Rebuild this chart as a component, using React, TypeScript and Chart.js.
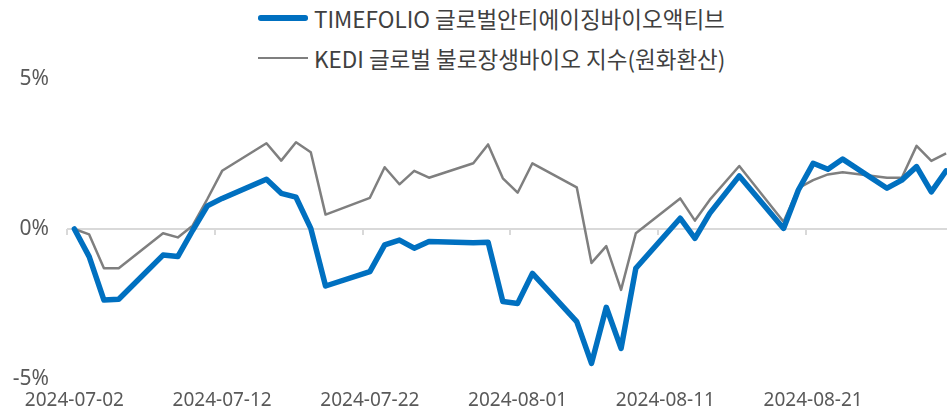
import { useEffect, useRef } from 'react';
import { Chart, registerables } from 'chart.js';

Chart.register(...registerables);

const seriesNames = ['TIMEFOLIO 글로벌안티에이징바이오액티브', 'KEDI 글로벌 불로장생바이오 지수(원화환산)'];
const seriesColors = ['#0070C0', '#7f7f7f'];
const seriesWidths = [5.5, 2.5];

const dates = [
  '2024-07-02', '2024-07-03', '2024-07-04', '2024-07-05', '2024-07-08', '2024-07-09', '2024-07-10', '2024-07-11', '2024-07-12',
  '2024-07-15', '2024-07-16', '2024-07-17', '2024-07-18', '2024-07-19',
  '2024-07-22', '2024-07-23', '2024-07-24', '2024-07-25', '2024-07-26',
  '2024-07-29', '2024-07-30', '2024-07-31', '2024-08-01', '2024-08-02',
  '2024-08-05', '2024-08-06', '2024-08-07', '2024-08-08', '2024-08-09',
  '2024-08-12', '2024-08-13', '2024-08-14', '2024-08-16',
  '2024-08-19', '2024-08-20', '2024-08-21', '2024-08-22', '2024-08-23',
  '2024-08-26', '2024-08-27', '2024-08-28', '2024-08-29', '2024-08-30',
];

const timefolio = [
  0, -0.92, -2.37, -2.34, -0.87, -0.92, -0.05, 0.77, 1.02,
  1.66, 1.19, 1.06, 0.02, -1.9,
  -1.42, -0.53, -0.37, -0.64, -0.42,
  -0.46, -0.44, -2.42, -2.48, -1.48,
  -3.09, -4.48, -2.61, -3.98, -1.31,
  0.36, -0.31, 0.52, 1.77,
  0.02, 1.3, 2.19, 1.99, 2.33,
  1.36, 1.63, 2.08, 1.24, 1.94,
];

const kedi = [
  0, -0.18, -1.31, -1.31, -0.14, -0.28, 0.11, 1.0, 1.94,
  2.86, 2.28, 2.89, 2.56, 0.48,
  1.04, 2.06, 1.49, 1.94, 1.71,
  2.19, 2.82, 1.69, 1.21, 2.19,
  1.39, -1.13, -0.57, -2.03, -0.14,
  1.02, 0.28, 0.97, 2.1,
  0.24, 1.36, 1.63, 1.82, 1.89,
  1.71, 1.71, 2.77, 2.27, 2.52,
];

const tickDates = ['2024-07-02', '2024-07-12', '2024-07-22', '2024-08-01', '2024-08-11', '2024-08-21'];
const yTickValues = [-5, 0, 5];

const START = Date.UTC(2024, 6, 2);
const dayIndex = (s: string) => {
  const [y, m, d] = s.split('-').map(Number);
  return Math.round((Date.UTC(y, m - 1, d) - START) / 86400000);
};
const dateFromIndex = (i: number) => {
  const dt = new Date(START + i * 86400000);
  const mm = String(dt.getUTCMonth() + 1).padStart(2, '0');
  const dd = String(dt.getUTCDate()).padStart(2, '0');
  return `${dt.getUTCFullYear()}-${mm}-${dd}`;
};

const zeroTicks = {
  id: 'zeroTicks',
  beforeDatasetsDraw(chart: any) {
    const { ctx, scales } = chart;
    const x = scales.x;
    const y = scales.y;
    const y0 = y.getPixelForValue(0);
    ctx.save();
    ctx.strokeStyle = '#d9d9d9';
    ctx.lineWidth = 2;
    tickDates.forEach((t) => {
      const px = Math.round(x.getPixelForValue(dayIndex(t) - 0.5));
      ctx.beginPath();
      ctx.moveTo(px, y0);
      ctx.lineTo(px, y0 + 6);
      ctx.stroke();
    });
    ctx.restore();
  },
};

export default function App() {
  const ref = useRef<HTMLCanvasElement>(null);

  useEffect(() => {
    if (!ref.current) return;
    const chart = new Chart(ref.current, {
      type: 'line',
      data: {
        datasets: [
          {
            label: seriesNames[0],
            data: dates.map((d, i) => ({ x: dayIndex(d), y: timefolio[i] })),
            borderColor: seriesColors[0],
            backgroundColor: seriesColors[0],
            borderWidth: seriesWidths[0],
            borderJoinStyle: 'round',
            borderCapStyle: 'round',
            pointRadius: 0,
            tension: 0,
            order: 1,
          },
          {
            label: seriesNames[1],
            data: dates.map((d, i) => ({ x: dayIndex(d), y: kedi[i] })),
            borderColor: seriesColors[1],
            backgroundColor: seriesColors[1],
            borderWidth: seriesWidths[1],
            borderJoinStyle: 'round',
            borderCapStyle: 'butt',
            pointRadius: 0,
            tension: 0,
            order: 2,
          },
        ],
      },
      options: {
        animation: false,
        responsive: false,
        layout: { padding: { top: 79, left: 0, right: 0, bottom: 0 } },
        plugins: {
          tooltip: { enabled: false },
          legend: { display: false },
        },
        scales: {
          x: {
            type: 'linear',
            min: -0.5,
            max: 59.06,
            grid: { display: false, drawTicks: false },
            border: { display: false },
            afterBuildTicks: (scale: any) => {
              scale.ticks = tickDates.map((t) => ({ value: dayIndex(t) }));
            },
            afterFit: (scale: any) => {
              scale.height = 33;
            },
            ticks: {
              padding: 10,
              maxRotation: 0,
              autoSkip: false,
              color: '#595959',
              font: { family: "'Noto Sans', sans-serif", size: 19 },
              callback: (v: any) => dateFromIndex(Number(v)),
            },
          },
          y: {
            min: -5,
            max: 5,
            afterBuildTicks: (scale: any) => {
              scale.ticks = yTickValues.map((v) => ({ value: v }));
            },
            afterFit: (scale: any) => {
              scale.width = 67;
            },
            border: { display: false },
            grid: {
              drawTicks: false,
              lineWidth: 2,
              color: (c: any) => (c.tick && c.tick.value === 0 ? '#d9d9d9' : 'rgba(0,0,0,0)'),
            },
            ticks: {
              padding: 18,
              color: '#595959',
              font: { family: "'Noto Sans', sans-serif", size: 21 },
              callback: (v: any) => `${v}%`,
            },
          },
        },
      },
      plugins: [zeroTicks],
    });
    return () => chart.destroy();
  }, []);

  const legendRow = (i: number, centerY: number) => (
    <div
      key={i}
      style={{
        position: 'absolute',
        left: 258,
        top: centerY - 16,
        height: 32,
        display: 'flex',
        alignItems: 'center',
        whiteSpace: 'nowrap',
      }}
    >
      <div
        style={{
          width: 50,
          height: seriesWidths[i],
          background: seriesColors[i],
          borderRadius: i === 0 ? seriesWidths[i] / 2 : 0,
          marginRight: 6,
        }}
      />
      <span
        style={{
          fontFamily: "'Noto Sans CJK KR', 'Noto Sans', sans-serif",
          fontSize: 22.5,
          lineHeight: '32px',
          color: '#404040',
        }}
      >
        {seriesNames[i]}
      </span>
    </div>
  );

  return (
    <div style={{ position: 'absolute', left: 0, top: 0, width: 947, height: 410, overflow: 'hidden', background: '#fff' }}>
      {legendRow(0, 18)}
      {legendRow(1, 58)}
      <canvas
        ref={ref}
        width={947}
        height={412}
        style={{ position: 'absolute', left: 0, top: 0, width: 947, height: 412 }}
      />
    </div>
  );
}
